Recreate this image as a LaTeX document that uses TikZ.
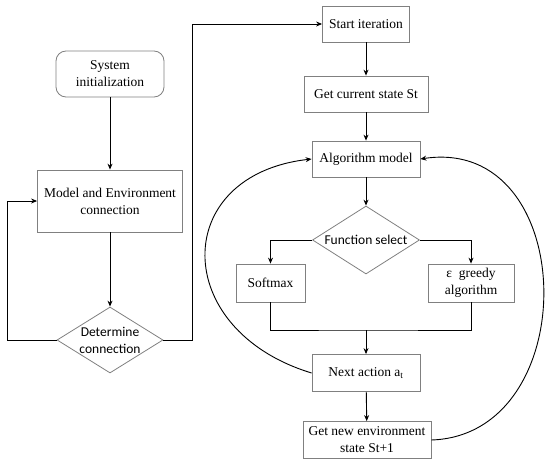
\documentclass[tikz,border=0pt]{standalone}
\usepackage{fontspec}
\setmainfont{Liberation Serif}
\newfontfamily\calibrifont{Carlito}
\usetikzlibrary{shapes.geometric, arrows.meta}

\begin{document}
\begin{tikzpicture}[>={Stealth[length=6pt,width=5pt]}, x=1pt, y=-1pt,
    box/.style={draw=gray, line width=0.8pt, fill=white, align=center, inner sep=0pt,
        font=\fontsize{13.5}{17}\selectfont},
    choice/.style={diamond, draw=gray, line width=0.8pt, fill=white, align=center, inner sep=0pt,
        aspect=1.6, font=\calibrifont\fontsize{13.5}{17}\selectfont},
    flow/.style={line width=0.9pt}]
    \useasboundingbox (0,0) rectangle (550,466);

    % left column
    \node[box, rounded corners=10pt, minimum width=108pt, minimum height=46pt] (sysinit) at (110,74) {System\\initialization};
    \node[box, minimum width=145pt, minimum height=62pt] (model) at (110,201) {Model and Environment\\connection};
    \node[choice, minimum width=106pt, minimum height=66pt] (determine) at (110,340) {Determine\\connection};

    % right column
    \node[box, minimum width=87pt, minimum height=36pt] (start) at (366,24) {Start iteration};
    \node[box, minimum width=124pt, minimum height=36pt] (getstate) at (366,94) {Get current state St};
    \node[box, minimum width=108pt, minimum height=36pt] (algo) at (366,159) {Algorithm model};
    \node[choice, minimum width=107pt, minimum height=68pt] (select) at (366,240) {Function select};
    \node[box, minimum width=69pt, minimum height=38pt] (softmax) at (270.5,283) {Softmax};
    \node[box, minimum width=86pt, minimum height=38pt] (greedy) at (471,283) {ε~ greedy\\algorithm};
    \node[box, minimum width=108pt, minimum height=37pt] (next) at (366,373) {Next action a\textsubscript{t}};
    \node[box, minimum width=128pt, minimum height=37pt] (newenv) at (367,440) {Get new environment\\state St+1};
    \coordinate (merge) at (366,330);

    \draw[flow, ->] (sysinit) -- (model);
    \draw[flow, ->] (model) -- (determine);
    \draw[flow, ->] (determine.west) -- ++(-49,0) |- (model.west);
    \draw[flow, ->] (determine.east) -- ++(29,0) |- (start.west);

    \draw[flow, ->] (start) -- (getstate);
    \draw[flow, ->] (getstate) -- (algo);
    \draw[flow, ->] (algo) -- (select);
    \draw[flow, ->] (select.west) -| (softmax.north);
    \draw[flow, ->] (select.east) -| (greedy.north);
    \draw[flow] (softmax.south) |- (merge) -| (greedy.south);
    \draw[flow, ->] (merge) -- (next);
    \draw[flow, ->] (next) -- (newenv);

    % feedback loops
    \draw[flow, ->] (next.west) .. controls (170,330) and (170,175) .. (algo.west);
    \draw[flow, ->] (newenv.east) .. controls (585,435) and (580,135) .. (algo.east);
\end{tikzpicture}
\end{document}
